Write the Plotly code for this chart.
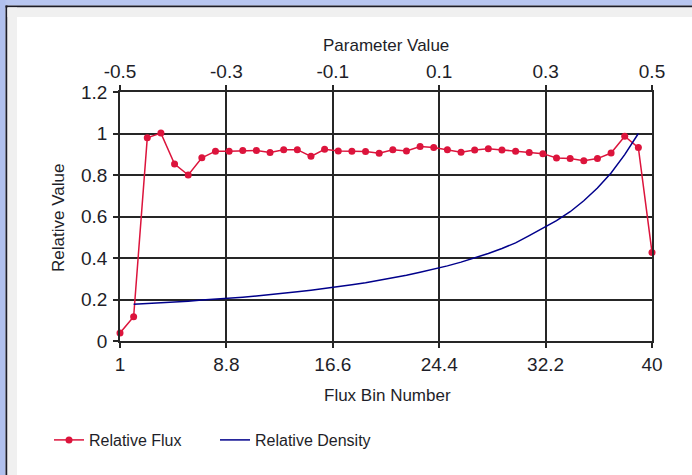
import plotly.graph_objects as go

# ---------------- data ----------------
flux_bins = list(range(1, 41))
relative_flux = [
    0.039, 0.117, 0.979, 1.002, 0.853, 0.800, 0.883, 0.915, 0.915, 0.918,
    0.918, 0.908, 0.922, 0.922, 0.890, 0.924, 0.916, 0.915, 0.913, 0.905,
    0.922, 0.916, 0.937, 0.932, 0.922, 0.910, 0.921, 0.926, 0.921, 0.915,
    0.908, 0.903, 0.882, 0.879, 0.869, 0.879, 0.906, 0.987, 0.932, 0.427,
]
density_bins = list(range(2, 40))
relative_density = [
    0.177, 0.180, 0.184, 0.188, 0.192, 0.197, 0.201, 0.206, 0.211, 0.217,
    0.223, 0.230, 0.237, 0.245, 0.253, 0.262, 0.271, 0.281, 0.292, 0.304,
    0.317, 0.331, 0.346, 0.362, 0.380, 0.400, 0.422, 0.446, 0.473, 0.508,
    0.545, 0.580, 0.623, 0.676, 0.737, 0.810, 0.898, 1.000,
]
bin_ticks = [1, 8.8, 16.6, 24.4, 32.2, 40]
bin_tick_labels = ["1", "8.8", "16.6", "24.4", "32.2", "40"]
param_ticks = [-0.5, -0.3, -0.1, 0.1, 0.3, 0.5]
param_tick_labels = ["-0.5", "-0.3", "-0.1", "0.1", "0.3", "0.5"]
value_ticks = [0, 0.2, 0.4, 0.6, 0.8, 1.0, 1.2]

# ---------------- layout geometry ----------------
W, H = 692, 475
ML, MR, MT, MB = 120, 40, 92, 134
PW, PH = W - ML - MR, H - MT - MB
FONT = "Liberation Sans, Arial, sans-serif"
TXT = "#1e1e28"
GRID = "#262626"


def px(xp):
    return (xp - ML) / PW


def py(yp):
    return (H - MB - yp) / PH


fig = go.Figure()
fig.add_trace(go.Scatter(
    x=flux_bins, y=relative_flux, mode="lines+markers", name="Relative Flux",
    line=dict(color="#DC143C", width=1.5),
    marker=dict(color="#DC143C", size=7), cliponaxis=False,
))
fig.add_trace(go.Scatter(
    x=density_bins, y=relative_density, mode="lines", name="Relative Density",
    line=dict(color="#00008B", width=1.5), cliponaxis=False,
))
# helper trace so the top (parameter) axis is drawn
fig.add_trace(go.Scatter(
    x=[param_ticks[0], param_ticks[-1]], y=[None, None], xaxis="x2", yaxis="y",
    mode="lines", showlegend=False, hoverinfo="skip",
))

axis_common = dict(
    showline=True, linecolor=GRID, linewidth=1.6,
    ticks="outside", ticklen=5, tickwidth=1.6, tickcolor=GRID,
    tickfont=dict(family=FONT, size=19, color=TXT),
    zeroline=False,
)

shapes = []


def rect(x0, y0, x1, y1, color):
    shapes.append(dict(type="rect", xref="paper", yref="paper",
                       x0=px(x0), x1=px(x1), y0=py(y1), y1=py(y0),
                       fillcolor=color, line=dict(width=0), layer="below"))


rect(0, 0, W, 5.5, "#B8C6F0")
rect(0, 0, 5.5, H, "#B0C0EE")
rect(5.5, 5.5, W, 7.5, "#1C1C28")
rect(5.5, 5.5, 7.5, H, "#1C1C28")
rect(7.5, 7.5, W, 17, "#F0F0F0")
rect(7.5, 7.5, 17, H, "#F0F0F0")

title_font = dict(family=FONT, size=17, color=TXT)
annotations = [
    dict(text="Parameter Value", xref="paper", yref="paper", x=px(386), y=py(45),
         xanchor="center", yanchor="middle", showarrow=False, font=title_font),
    dict(text="Flux Bin Number", xref="paper", yref="paper", x=px(387), y=py(395),
         xanchor="center", yanchor="middle", showarrow=False, font=title_font),
    dict(text="Relative Value", xref="paper", yref="paper", x=px(58), y=py(218),
         xanchor="center", yanchor="middle", showarrow=False, textangle=-90,
         font=title_font),
]

fig.update_layout(
    width=W, height=H,
    margin=dict(l=ML, r=MR, t=MT, b=MB, pad=0),
    paper_bgcolor="white", plot_bgcolor="white",
    font=dict(family=FONT, color=TXT),
    xaxis=dict(range=[bin_ticks[0], bin_ticks[-1]], tickvals=bin_ticks,
               ticktext=bin_tick_labels, showgrid=True, gridcolor=GRID,
               gridwidth=1.6, mirror=True, **axis_common),
    xaxis2=dict(range=[param_ticks[0], param_ticks[-1]], overlaying="x", side="top",
                tickvals=param_ticks, ticktext=param_tick_labels, showgrid=False,
                **axis_common),
    yaxis=dict(range=[value_ticks[0], value_ticks[-1]], tickvals=value_ticks,
               showgrid=True, gridcolor=GRID, gridwidth=1.6, mirror=True,
               ticklabelstandoff=2, **axis_common),
    showlegend=True,
    legend=dict(orientation="h", x=px(49), y=py(440), xanchor="left",
                yanchor="middle", entrywidth=121,
                font=dict(family=FONT, size=16, color=TXT),
                bgcolor="rgba(0,0,0,0)"),
    shapes=shapes,
    annotations=annotations,
)

fig.write_html("out.html")
